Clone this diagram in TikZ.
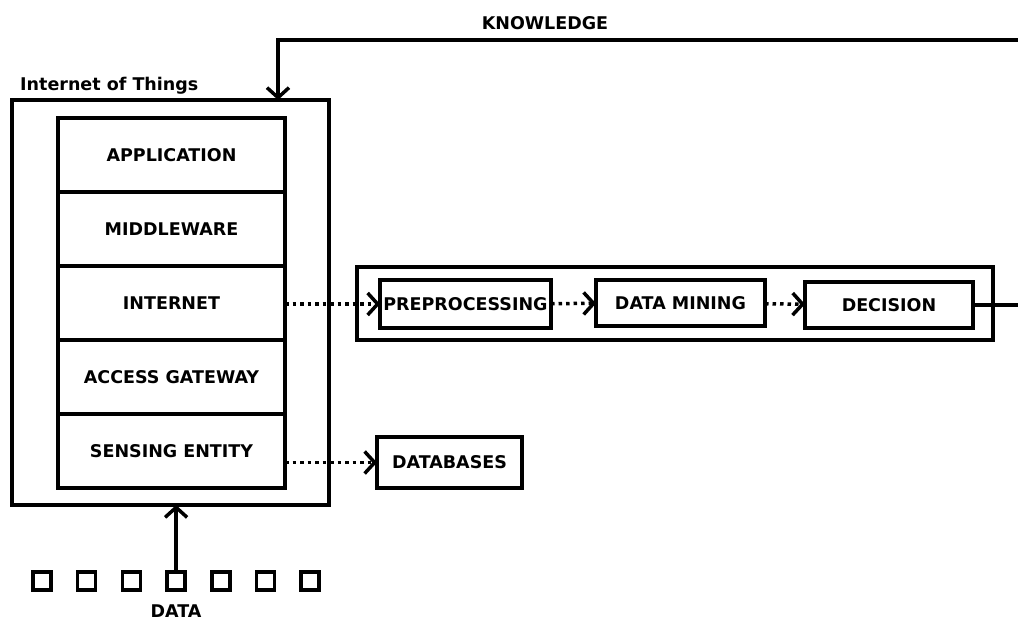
\documentclass[tikz,border=0pt]{standalone}
\usepackage{fontspec}
\setmainfont{DejaVu Sans}
\usetikzlibrary{arrows.meta,positioning}

\begin{document}
\begin{tikzpicture}[x=1pt,y=-1pt,
    lbl/.style={font=\bfseries\fontsize{17.5}{20}\selectfont,inner sep=0pt},
    box/.style={draw,line width=3.5pt,outer sep=0pt,lbl},
    layer/.style={box,minimum width=227pt,minimum height=74pt},
    arrow/.style={line width=3.5pt,-{Straight Barb[length=10pt,width=22pt]}},
    dotarrow/.style={arrow,dash pattern=on 3.5pt off 4pt},
    sq/.style={draw,line width=3.5pt,minimum size=18pt,inner sep=0pt,outer sep=0pt}]
    \useasboundingbox (0,0) rectangle (1018,624);
      %the IoT block with its stack of layers
    \node[box,minimum width=317pt,minimum height=405pt] (iot) at (170.5,302.5) {};
    \node[lbl,anchor=base west] (iotlbl) at (20,90) {Internet of Things};
    \node[layer] (app) at (171.5,155) {APPLICATION};
    \node[layer,below=0pt of app] (mid) {MIDDLEWARE};
    \node[layer,below=0pt of mid] (inet) {INTERNET};
    \node[layer,below=0pt of inet] (gate) {ACCESS GATEWAY};
    \node[layer,below=0pt of gate] (sense) {SENSING ENTITY};
      %the analysis pipeline
    \node[box,minimum width=636pt,minimum height=73pt] (pipe) at (675,303.5) {};
    \node[box,minimum width=171pt,minimum height=48pt] (pre) at (465.5,304) {PREPROCESSING};
    \node[box,minimum width=169pt,minimum height=46pt] (dm) at (680.5,303) {DATA MINING};
    \node[box,minimum width=168pt,minimum height=46pt] (dec) at (889,305) {DECISION};
    \node[box,minimum width=145pt,minimum height=51pt] (db) at (449.5,462.5) {DATABASES};
    \draw[dotarrow] (inet.east |- pre) -- (pre);
    \draw[dotarrow] (pre) -- (dm);
    \draw[dotarrow] (dm) -- (dec);
    \draw[dotarrow] (sense.east |- db) -- (db);
      %knowledge fed back into the IoT block
    \coordinate (rim) at (1018,40);
    \coordinate (kin) at (278,40);
    \draw[line width=3.5pt] (dec.east) -- (dec.east -| rim);
    \draw[arrow] (rim) -- (kin) -- (kin |- iot.north);
    \node[lbl] (know) at (545,23) {KNOWLEDGE};
      %the data sources
    \foreach \i in {0,...,6}
      \node[sq] (d\i) at (42+44.7*\i,581) {};
    \draw[arrow] (d3.north) -- (d3.north |- iot.south);
    \node[lbl] (datalbl) at (176,611) {DATA};
\end{tikzpicture}
\end{document}
